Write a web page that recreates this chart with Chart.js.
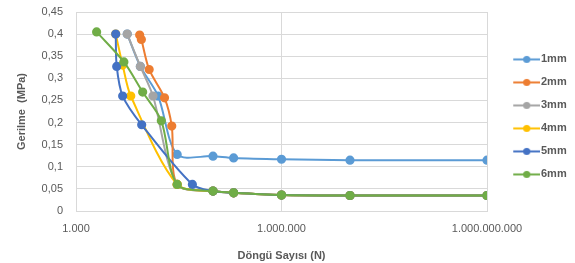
<!DOCTYPE html>
<html>
<head>
<meta charset="utf-8">
<script src="https://cdn.jsdelivr.net/npm/chart.js@4/dist/chart.umd.min.js"></script>
<style>
  html, body { margin: 0; padding: 0; background: #ffffff; }
  #wrap { width: 575px; height: 263px; }
</style>
</head>
<body>
<div id="wrap"><canvas id="c" width="575" height="263"></canvas></div>
<script>
// ---- data ----
const seriesNames = ['1mm', '2mm', '3mm', '4mm', '5mm', '6mm'];
const seriesColors = ['#5B9BD5', '#ED7D31', '#A5A5A5', '#FFC000', '#4472C4', '#70AD47'];

const cycles1mm = [5600, 8700, 15800, 30000, 100000, 200000, 1000000, 10000000, 1000000000];
const stress1mm = [0.400, 0.327, 0.260, 0.128, 0.124, 0.120, 0.117, 0.115, 0.115];

const cycles2mm = [8500, 9000, 11700, 19600, 25000, 30000, 100000, 200000, 1000000, 10000000, 1000000000];
const stress2mm = [0.398, 0.388, 0.320, 0.256, 0.192, 0.060, 0.045, 0.041, 0.036, 0.035, 0.035];

const cycles3mm = [5600, 8700, 13300, 30000, 100000, 200000, 1000000, 10000000, 1000000000];
const stress3mm = [0.400, 0.327, 0.260, 0.060, 0.045, 0.041, 0.036, 0.035, 0.035];

const cycles4mm = [3800, 4800, 6300, 30000, 100000, 200000, 1000000, 10000000, 1000000000];
const stress4mm = [0.400, 0.330, 0.260, 0.060, 0.045, 0.041, 0.036, 0.035, 0.035];

const cycles5mm = [3800, 3930, 4800, 9100, 50000, 100000, 200000, 1000000, 10000000, 1000000000];
const stress5mm = [0.400, 0.327, 0.260, 0.195, 0.060, 0.045, 0.041, 0.036, 0.035, 0.035];

const cycles6mm = [2000, 5000, 9400, 17600, 30000, 100000, 200000, 1000000, 10000000, 1000000000];
const stress6mm = [0.405, 0.337, 0.269, 0.204, 0.060, 0.045, 0.041, 0.036, 0.035, 0.035];

const xTickValues = [1000, 1000000, 1000000000];
const xTickLabels = ['1.000', '1.000.000', '1.000.000.000'];
const yTickLabels = ['0', '0,05', '0,1', '0,15', '0,2', '0,25', '0,3', '0,35', '0,4', '0,45'];

const xTitle = 'Döngü Sayısı (N)';
const yTitle = 'Gerilme  (MPa)';

// ---- build ----
const allCycles = [cycles1mm, cycles2mm, cycles3mm, cycles4mm, cycles5mm, cycles6mm];
const allStress = [stress1mm, stress2mm, stress3mm, stress4mm, stress5mm, stress6mm];

// legend icon: transparent left part, then a short line with a round marker
function makeIcon(color) {
  const cv = document.createElement('canvas');
  cv.width = 46; cv.height = 9;
  const g = cv.getContext('2d');
  g.strokeStyle = color; g.lineWidth = 2;
  g.beginPath(); g.moveTo(19, 4.5); g.lineTo(46, 4.5); g.stroke();
  g.fillStyle = color;
  g.beginPath(); g.arc(32.5, 4.5, 3.6, 0, Math.PI * 2); g.fill();
  return cv;
}

const datasets = [];
for (let i = seriesNames.length - 1; i >= 0; i--) {
  datasets.push({
    label: seriesNames[i],
    data: allCycles[i].map((x, k) => ({ x: x, y: allStress[i][k] })),
    borderColor: seriesColors[i],
    backgroundColor: seriesColors[i],
    pointBackgroundColor: seriesColors[i],
    pointBorderColor: seriesColors[i],
    borderWidth: 2,
    pointRadius: 3.6,
    pointHoverRadius: 3.6,
    tension: 0.3,
    fill: false
  });
}

Chart.defaults.font.family = '"Liberation Sans", Arial, sans-serif';
Chart.defaults.font.size = 11;
Chart.defaults.color = '#595959';

const gridColor = '#D9D9D9';

new Chart(document.getElementById('c').getContext('2d'), {
  type: 'line',
  data: { datasets: datasets },
  options: {
    responsive: false,
    animation: false,
    events: [],
    layout: { padding: { top: 0, right: 0, bottom: 0, left: 0 } },
    plugins: {
      tooltip: { enabled: false },
      legend: {
        position: 'right',
        fullSize: false,
        reverse: true,
        maxWidth: 88,
        title: { display: true, text: ' ', font: { size: 9 }, padding: 0 },
        labels: {
          usePointStyle: true,
          pointStyleWidth: 36.5,
          padding: 12,
          color: '#595959',
          font: { size: 11, weight: 'bold' },
          generateLabels: function (chart) {
            const items = Chart.defaults.plugins.legend.labels.generateLabels(chart);
            items.forEach(function (it) {
              const ds = chart.data.datasets[it.datasetIndex];
              it.pointStyle = makeIcon(ds.borderColor);
            });
            return items;
          }
        }
      }
    },
    scales: {
      x: {
        type: 'logarithmic',
        min: xTickValues[0],
        max: xTickValues[xTickValues.length - 1],
        afterBuildTicks: function (scale) {
          scale.ticks = xTickValues.map(v => ({ value: v }));
        },
        afterFit: function (scale) { scale.height = 52; },
        grid: { color: gridColor, drawTicks: false },
        border: { color: gridColor },
        ticks: {
          padding: 11,
          maxRotation: 0,
          autoSkip: false,
          callback: function (value) {
            const idx = xTickValues.indexOf(value);
            return idx >= 0 ? xTickLabels[idx] : '';
          }
        },
        title: {
          display: true,
          text: xTitle,
          color: '#595959',
          font: { size: 11, weight: 'bold' },
          padding: { top: 4, bottom: 0 }
        }
      },
      y: {
        type: 'linear',
        min: 0,
        max: 0.45,
        afterFit: function (scale) {
          scale.width = 76;
          scale.paddingTop = 12;
          scale.paddingBottom = 7;
        },
        grid: { color: gridColor, drawTicks: false },
        border: { display: false },
        ticks: {
          stepSize: 0.05,
          padding: 13,
          callback: function (value) {
            const idx = Math.round(value / 0.05);
            return yTickLabels[idx];
          }
        },
        title: {
          display: true,
          text: yTitle,
          color: '#595959',
          font: { size: 11, weight: 'bold' },
          padding: { top: 15, bottom: 0 }
        }
      }
    }
  }
});
</script>
</body>
</html>
